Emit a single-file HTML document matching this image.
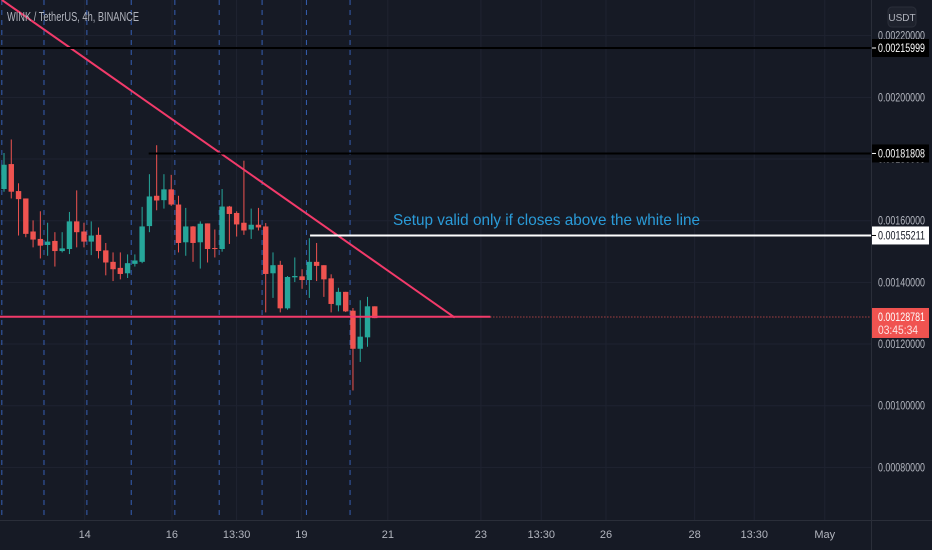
<!DOCTYPE html>
<html><head><meta charset="utf-8">
<style>
html,body{margin:0;padding:0;background:#161a25;width:932px;height:550px;overflow:hidden}
svg{display:block;font-family:"Liberation Sans",sans-serif}
</style></head>
<body>
<svg id="chart" width="932" height="550" viewBox="0 0 932 550" xmlns="http://www.w3.org/2000/svg">
<rect x="0" y="0" width="932" height="550" fill="#161a25"/>
<g id="grid"></g>
<g id="vlines"></g>
<g id="candles"></g>
<g id="drawings"></g>
<g id="yaxis"></g>
<g id="xaxis"></g>
<text x="7" y="21" font-size="13" fill="#b2b5be" textLength="132" lengthAdjust="spacingAndGlyphs">WINK / TetherUS, 4h, BINANCE</text>
</svg>
<script>
// ---- data (prices in units of 1e-5 USDT) ----
const opens  = [170.27,178.36,169.61,167.21,156.50,154.09,152.13,153.44,150.16,150.82,159.78,156.50,153.22,155.41,150.38,146.66,144.70,142.95,146.01,146.66,158.25,168.08,166.66,170.16,165.24,153.00,158.14,153.00,159.12,151.14,150.82,164.59,162.51,159.34,157.15,158.69,158.14,142.95,145.68,131.58,141.64,141.96,140.76,146.66,145.57,141.31,132.56,136.93,130.82,118.47,122.18,132.24];
const highs  = [181.96,186.33,172.13,167.21,160.11,163.06,159.34,156.28,156.28,162.84,169.83,159.34,159.78,157.81,152.78,149.72,149.72,149.07,149.07,164.48,175.08,184.48,175.08,174.86,168.08,164.15,158.25,159.78,159.12,157.15,170.27,164.80,163.06,179.45,163.93,164.15,159.23,149.72,146.99,142.07,148.08,144.26,154.31,152.78,145.57,142.62,138.25,136.93,131.69,134.20,135.30,132.24];
const lows   = [169.40,167.21,155.19,154.64,151.36,147.76,148.63,145.13,149.72,149.18,151.36,151.36,148.85,147.76,142.29,140.43,140.98,141.42,145.13,146.23,156.28,163.38,163.93,164.80,149.72,148.63,146.66,144.48,146.45,148.08,149.94,152.46,154.86,155.41,154.09,156.83,130.27,134.97,130.27,131.14,140.10,137.92,134.97,140.43,135.30,130.27,130.60,130.38,104.95,114.20,119.12,128.41];
const closes = [178.14,169.40,166.99,155.73,153.88,151.91,153.22,150.16,151.03,159.78,156.28,153.22,155.19,150.16,146.45,144.26,142.73,146.23,147.10,158.14,167.86,166.55,170.16,165.24,152.78,158.14,152.78,159.01,150.82,150.82,164.59,162.18,158.79,156.83,158.69,157.81,142.73,145.57,131.58,141.75,142.07,140.76,146.66,145.35,140.98,133.00,136.93,130.60,118.47,122.40,132.24,128.41];
const priceTicks = [220,200,180,160,140,120,100,80];
const priceTickLabels = ["0.00220000","0.00200000","0.00180000","0.00160000","0.00140000","0.00120000","0.00100000","0.00080000"];
const timeTickIdx = [11.1,23.1,32.0,40.9,52.8,65.6,73.9,82.8,95.0,103.2,112.9];
const timeTickLabels = ["14","16","13:30","19","21","23","13:30","26","28","13:30","May"];
const dividerIdx = [-0.3,5.5,11.4,17.5,23.5,29.6,35.5,41.6,47.6];
const levelPrices = [215.999,181.808,155.211];
const levelLabels = ["0.00215999","0.00181808","0.00155211"];
const lastPrice = 128.781;
const lastLabel = "0.00128781";
const countdown = "03:45:34";
const trendStart = [-0.3,231.6];
const trendEnd = [62.0,128.6];
const supportStart = [-1,128.85];
const supportEnd = [66.9,128.85];
const level2StartIdx = 19.9;
const level3StartIdx = 42.1;

// ---- axis functions ----
const PLOT_R = 871;
function xOf(i){ return 4 + 7.27*i; }
function yOf(p){ return 48 + (215.999 - p)*3.084; }

const NS="http://www.w3.org/2000/svg";
function mk(parent,tag,attrs){const e=document.createElementNS(NS,tag);for(const k in attrs)e.setAttribute(k,attrs[k]);parent.appendChild(e);return e;}
const G=id=>document.getElementById(id);

// grid
priceTicks.forEach((p,k)=>{
  const l=mk(G('grid'),'line',{x1:0,x2:PLOT_R,y1:yOf(p),y2:yOf(p),stroke:'#1f2331','stroke-width':1});
  
  
});
timeTickIdx.forEach(i=>{
  const l=mk(G('grid'),'line',{x1:xOf(i),x2:xOf(i),y1:0,y2:520,stroke:'#1f2331','stroke-width':1});
  
  
});
dividerIdx.forEach(i=>{
  const l=mk(G('vlines'),'line',{x1:xOf(i),x2:xOf(i),y1:0,y2:520,stroke:'#3d6fd6','stroke-opacity':0.8,'stroke-width':1,'stroke-dasharray':'5,5'});
  
  
});

// candles
opens.forEach((o,i)=>{
  const c=closes[i],up=c>=o,col=up?'#26a69a':'#ef5350',x=xOf(i);
  const g=mk(G('candles'),'g',{});
  
  
  mk(g,'line',{x1:x,x2:x,y1:yOf(highs[i]),y2:yOf(lows[i]),stroke:col,'stroke-width':1});
  const top=yOf(Math.max(o,c)),bot=yOf(Math.min(o,c));
  mk(g,'rect',{x:x-2.7,y:top,width:5.4,height:Math.max(1,bot-top),fill:col});
});

// drawings
const D=G('drawings');
let e;
e=mk(D,'line',{x1:xOf(trendStart[0]),y1:yOf(trendStart[1]),x2:xOf(trendEnd[0]),y2:yOf(trendEnd[1]),stroke:'#f23a6a','stroke-width':2});


e=mk(D,'line',{x1:xOf(supportStart[0]),y1:yOf(supportStart[1]),x2:xOf(supportEnd[0]),y2:yOf(supportEnd[1]),stroke:'#f23a6a','stroke-width':2});


e=mk(D,'line',{x1:xOf(supportEnd[0]),y1:yOf(lastPrice),x2:PLOT_R,y2:yOf(lastPrice),stroke:'#ef5350','stroke-width':1,'stroke-dasharray':'1,2'});


e=mk(D,'line',{x1:0,y1:yOf(levelPrices[0]),x2:PLOT_R,y2:yOf(levelPrices[0]),stroke:'#000','stroke-width':2});


e=mk(D,'line',{x1:xOf(level2StartIdx),y1:yOf(levelPrices[1]),x2:PLOT_R,y2:yOf(levelPrices[1]),stroke:'#000','stroke-width':2});


e=mk(D,'line',{x1:xOf(level3StartIdx),y1:yOf(levelPrices[2]),x2:PLOT_R,y2:yOf(levelPrices[2]),stroke:'#fff','stroke-width':2});


e=mk(D,'text',{x:393,y:225,'font-size':16,fill:'#2a9bd8',textLength:307,lengthAdjust:'spacingAndGlyphs'});
e.textContent='Setup valid only if closes above the white line';



// price axis
const Y=G('yaxis');
mk(Y,'line',{x1:PLOT_R+0.5,x2:PLOT_R+0.5,y1:0,y2:550,stroke:'#2a2e39','stroke-width':1});
e=mk(Y,'rect',{x:888,y:7,width:28,height:20,rx:4,fill:'#1e222d',stroke:'#2a2e39'});


e=mk(Y,'text',{x:902,y:21,'font-size':10,fill:'#b2b5be','text-anchor':'middle'});e.textContent='USDT';


priceTicks.forEach((p,k)=>{
  const t=mk(Y,'text',{x:878,y:yOf(p)+4,'font-size':12,fill:'#b2b5be',textLength:47,lengthAdjust:'spacingAndGlyphs'});
  t.textContent=priceTickLabels[k];
  
  
});
levelPrices.forEach((p,k)=>{
  const white=k===2,y=yOf(p);
  const r=mk(Y,'rect',{x:872,y:y-9,width:57,height:18,fill:white?'#fff':'#000'});
  
  
  mk(Y,'line',{x1:872,x2:876,y1:y,y2:y,stroke:white?'#000':'#fff'});
  const t=mk(Y,'text',{x:878,y:y+4,'font-size':12,fill:white?'#131722':'#fff',textLength:47,lengthAdjust:'spacingAndGlyphs'});
  t.textContent=levelLabels[k];
  
  
});
{
  const y=yOf(lastPrice);
  e=mk(Y,'rect',{x:872,y:y-9,width:57,height:30,fill:'#f05350'});
  
  
  e=mk(Y,'text',{x:878,y:y+4,'font-size':12,fill:'#fff',textLength:47,lengthAdjust:'spacingAndGlyphs'});e.textContent=lastLabel;
  
  
  e=mk(Y,'text',{x:878,y:y+17,'font-size':12,fill:'#fde2e2',textLength:40,lengthAdjust:'spacingAndGlyphs'});e.textContent=countdown;
  
  
}

// time axis
const X=G('xaxis');
mk(X,'line',{x1:0,x2:932,y1:520.5,y2:520.5,stroke:'#2a2e39','stroke-width':1});
timeTickIdx.forEach((i,k)=>{
  const t=mk(X,'text',{x:xOf(i),y:538,'font-size':11,fill:'#b2b5be','text-anchor':'middle'});
  t.textContent=timeTickLabels[k];
  
  
});
</script>
</body></html>
